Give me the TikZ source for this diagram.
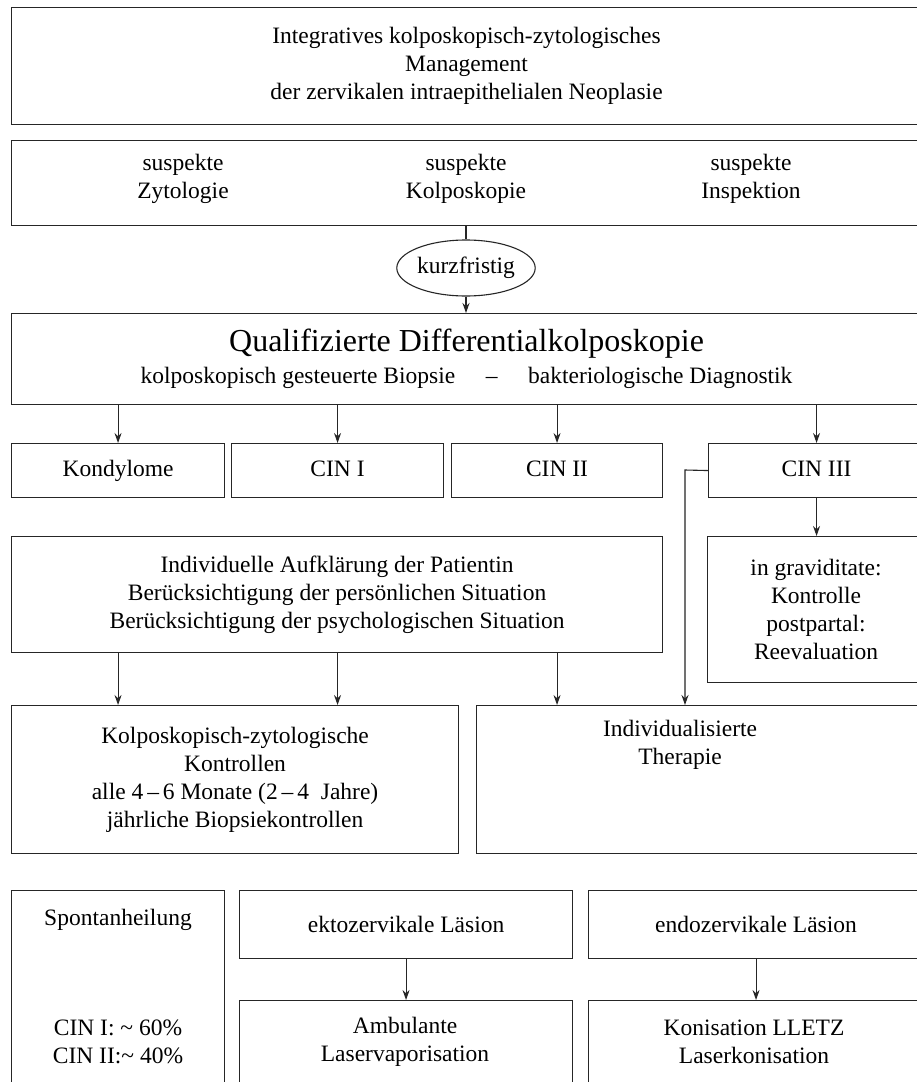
\documentclass[tikz,border=0pt]{standalone}
\usepackage{fontspec}
\setmainfont{Liberation Serif}
\usetikzlibrary{arrows.meta, shapes.geometric, positioning}
\newcommand{\boxfont}{\fontsize{23.5}{28}\selectfont}
\newcommand{\grossfont}{\fontsize{32}{36}\selectfont}

\begin{document}
\begin{tikzpicture}[x=1pt, y=-1pt,
        box/.style={rectangle, draw=black!85, line width=1.1pt, fill=white, align=center, font=\boxfont, inner sep=0pt, anchor=north west},
        befund/.style={box, minimum height=54, text height=17pt, text depth=5pt},
        txt/.style={align=center, font=\boxfont, inner sep=0pt},
        oval/.style={ellipse, draw=black!85, line width=1.1pt, fill=white, font=\boxfont, minimum width=128, minimum height=56, inner sep=0pt},
        line/.style={draw=black!85, line width=1.1pt},
        pfeil/.style={line, -{Stealth[length=10pt, width=7pt]}}
    ]%
        \useasboundingbox (0,0) rectangle (917,1082);
        \clip (0,0) rectangle (917,1082);
        \fill[white] (0,0) rectangle (917,1082);
        % ================= KOPF =================
        \node[box, minimum width=910, minimum height=117] (titel) at (11,7) {Integratives kolposkopisch-zytologisches\\Management\\der zervikalen intraepithelialen Neoplasie};
        % Anlass der Abklaerung (drei Spalten in einem Kasten)
        \node[box, minimum width=910, minimum height=85] (anlass) at (11,140) {};
        \node[txt] (zyto) at (183,179) {suspekte\\Zytologie};
        \node[txt] (kolpo) at (466,179) {suspekte\\Kolposkopie};
        \node[txt] (insp) at (751,179) {suspekte\\Inspektion};
        \node[oval] (kurz) at (466,268) {kurzfristig};
        % ================= DIAGNOSTIK =================
        \node[box, minimum width=910, minimum height=91] (diff) at (11,313) {{\grossfont Qualifizierte Differentialkolposkopie}\\[4pt]kolposkopisch gesteuerte Biopsie\hspace{1.3em}–\hspace{1.3em}bakteriologische Diagnostik};
        % Befunde
        \node[befund, minimum width=213] (kond) at (11,443) {Kondylome};
        \node[befund, minimum width=212] (cin1) at (231,443) {CIN I};
        \node[befund, minimum width=211] (cin2) at (451,443) {CIN II};
        \node[befund, minimum width=216] (cin3) at (708,443) {CIN III};
        % ================= BERATUNG =================
        \node[box, minimum width=651, minimum height=116] (aufkl) at (11,536) {Individuelle Aufklärung der Patientin\\Berücksichtigung der persönlichen Situation\\Berücksichtigung der psychologischen Situation};
        \node[box, minimum width=217, minimum height=146] (grav) at (707,536) {in graviditate:\\Kontrolle\\postpartal:\\Reevaluation};
        % ================= VORGEHEN =================
        \node[box, minimum width=447, minimum height=148] (kontr) at (11,705) {Kolposkopisch-zytologische\\Kontrollen\\alle 4\,–\,6 Monate (2\,–\,4\ \ Jahre)\\jährliche Biopsiekontrollen};
        \node[box, minimum width=448, minimum height=148] (ther) at (476,705) {};
        \node[txt] (thertxt) at (680,745) {Individualisierte\\Therapie};
        % ================= VERLAUF UND THERAPIEFORMEN (unten, angeschnitten) =================
        \node[box, minimum width=213, minimum height=240] (spont) at (11,890) {};
        \node[txt] (sponttxt) at (118,920) {Spontanheilung};
        \node[txt] (quote) at (118,1042) {CIN I: \textasciitilde{} 60\%\\CIN II:\textasciitilde{} 40\%};
        \node[box, minimum width=333, minimum height=68] (ekto) at (239,890) {ektozervikale Läsion};
        \node[box, minimum width=335, minimum height=68] (endo) at (588,890) {endozervikale Läsion};
        \node[box, minimum width=333, minimum height=150] (amb) at (239,1000) {};
        \node[txt] (ambtxt) at (405,1042) {Ambulante\\Laservaporisation};
        \node[box, minimum width=335, minimum height=150] (kon) at (588,1000) {};
        \node[txt] (kontxt) at (754,1042) {Konisation LLETZ\\Laserkonisation};
        % ================= VERBINDUNGEN =================
        \draw[line] (kurz.north |- anlass.south) -- (kurz.north);
        \draw[pfeil] (kurz.south) -- (kurz.south |- diff.north);
        \draw[pfeil] (kond.north |- diff.south) -- (kond.north);
        \draw[pfeil] (cin1.north |- diff.south) -- (cin1.north);
        \draw[pfeil] (cin2.north |- diff.south) -- (cin2.north);
        \draw[pfeil] (cin3.north |- diff.south) -- (cin3.north);
        \draw[pfeil] (cin3.south) -- (cin3.south |- grav.north);
        \draw[pfeil] (kond.south |- aufkl.south) -- (kond.south |- kontr.north);
        \draw[pfeil] (cin1.south |- aufkl.south) -- (cin1.south |- kontr.north);
        \draw[pfeil] (cin2.south |- aufkl.south) -- (cin2.south |- ther.north);
        % CIN III seitlich direkt zur Therapie
        \coordinate (abzw) at (685,470);
        \draw[pfeil] (cin3.west) -- (abzw) -- (abzw |- ther.north);
        \draw[pfeil] (ekto.south) -- (amb.north);
        \draw[pfeil] (endo.south) -- (kon.north);
    \end{tikzpicture}
\end{document}
